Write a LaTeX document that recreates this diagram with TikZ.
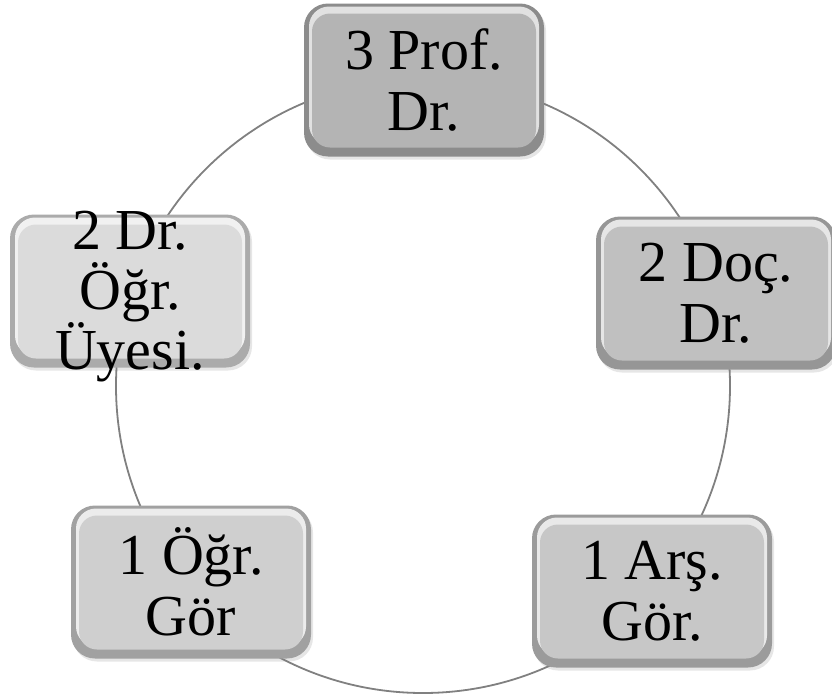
\documentclass[tikz,border=0pt]{standalone}
\usepackage{fontspec}
\setmainfont{Liberation Serif}
\usetikzlibrary{shadows}
\definecolor{lvlA}{RGB}{180,180,180}
\definecolor{lvlB}{RGB}{192,192,192}
\definecolor{lvlC}{RGB}{199,199,199}
\definecolor{lvlD}{RGB}{207,207,207}
\definecolor{lvlE}{RGB}{219,219,219}
\begin{document}
\begin{tikzpicture}[x=1pt, y=-1pt,
    lvl/.style={shape=rectangle, rounded corners=24pt, minimum width=240pt, minimum height=153pt,
        inner sep=0pt, align=center, font=\fontsize{58}{61}\selectfont,
        fill=#1!78!black, drop shadow={shadow xshift=2pt, shadow yshift=-3pt, opacity=.2},
        path picture={
            \fill[#1!40!white, rounded corners=20pt] ([shift={(5pt,-3pt)}]path picture bounding box.north west) rectangle ([shift={(-5pt,12pt)}]path picture bounding box.south east);
            \fill[#1, rounded corners=18pt] ([shift={(8pt,-10pt)}]path picture bounding box.north west) rectangle ([shift={(-8pt,9pt)}]path picture bounding box.south east);
        }},
    lbl/.style={align=center, inner sep=0pt, font=\fontsize{58}{60}\selectfont},
    ring/.style={draw=black!50, line width=1.8pt}]
    \useasboundingbox (0,0) rectangle (832,696);

    \draw[ring] (423,386) circle[radius=307pt];

    \node[lvl=lvlA] (prof) at (424,80) {3 Prof.\\Dr.};
    \node[lvl=lvlB] (doc) at (716,293) {2 Doç.\\Dr.};
    \node[lvl=lvlC] (ars) at (652,591) {1 Arş.\\Gör.};
    \node[lvl=lvlD] (ogr) at (191,582) {1 Öğr.\\Gör};
    \node[lvl=lvlE] (uye) at (130,291) {};
    \node[lbl] (uye-t) at ([yshift=-6pt]uye) {2 Dr.\\Öğr.\\Üyesi.};

\end{tikzpicture}
\end{document}
